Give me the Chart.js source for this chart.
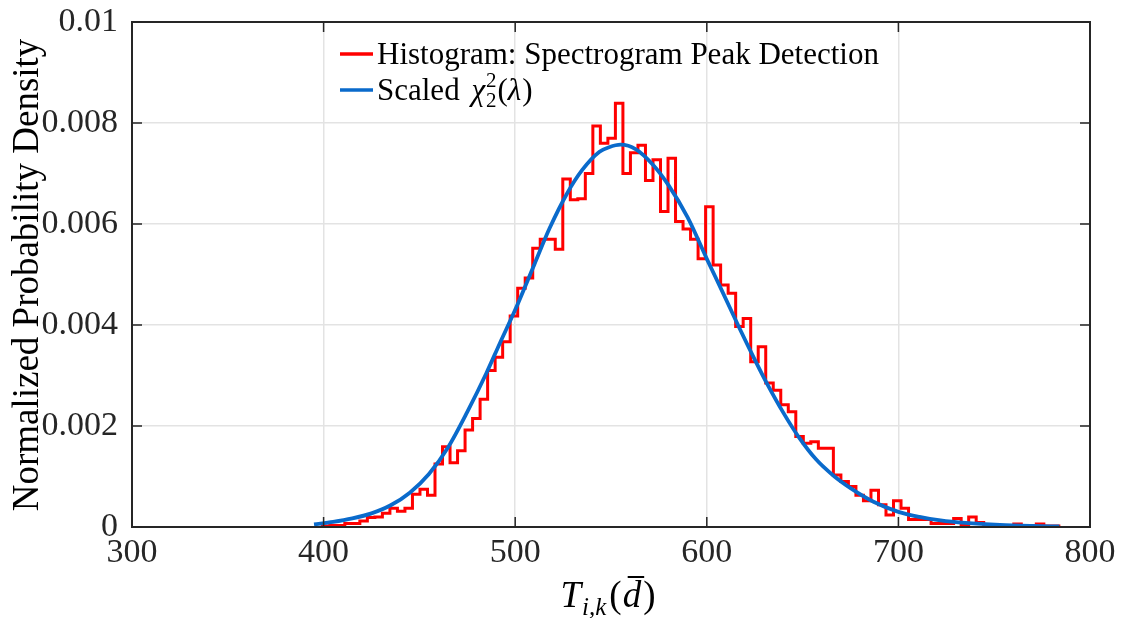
<!DOCTYPE html>
<html>
<head>
<meta charset="utf-8">
<script src="https://cdn.jsdelivr.net/npm/chart.js@4.4.1/dist/chart.umd.min.js"></script>
<style>
  body { margin: 0; background: #fff; }
  #wrap { width: 1121px; height: 618px; }
</style>
</head>
<body>
<div id="wrap"><canvas id="chart" width="1121" height="618"></canvas></div>
<script>
// histogram of the peak statistic (normalized density per bin)
const histStart = 399.3;
const binWidth = 3.923;
const histDensity = [
  0.00002, 0.00003, 0.00003, 0.00007, 0.00007, 0.00012, 0.00019, 0.0002, 0.00027, 0.00037,
  0.00031, 0.00037, 0.00065, 0.00075, 0.00063, 0.00125, 0.00159, 0.00127, 0.00151, 0.00192,
  0.00215, 0.00253, 0.0031, 0.00336, 0.00367, 0.00418, 0.00473, 0.00493, 0.00552, 0.0057,
  0.0057, 0.0055, 0.00689, 0.00648, 0.0065, 0.007, 0.00794, 0.0076, 0.0077, 0.00839,
  0.007, 0.00741, 0.00756, 0.00686, 0.00727, 0.00625, 0.0073, 0.00605, 0.0059, 0.0057,
  0.00531, 0.00634, 0.00519, 0.00479, 0.00463, 0.00397, 0.00413, 0.00327, 0.00357, 0.00285,
  0.00271, 0.00242, 0.00228, 0.00179, 0.00166, 0.00169, 0.00156, 0.00156, 0.00103, 0.0009,
  0.0008, 0.00063, 0.00052, 0.00073, 0.00044, 0.00024, 0.00052, 0.00037, 0.00015, 0.00015,
  0.00015, 0.00007, 0.00007, 0.00007, 0.00017, 0.00005, 0.0002, 0.00009, 0.00002, 0,
  0, 0.00002, 0.00006, 0.00002, 0.00002, 0.00006, 0.00002, 0.00002
];
// scaled chi-square curve
const curveX = [395, 405, 415, 425, 435, 445, 455, 465, 475, 485, 492, 500, 510, 518, 527, 535, 544, 549, 555, 563,
  572, 580, 590, 600, 608, 617, 626, 631, 640, 648, 657, 666, 675, 687, 700, 711, 722, 735, 753, 770, 784];
const curveY = [0.00005, 0.0001, 0.00017, 0.00027, 0.00043, 0.00068, 0.00105, 0.00158, 0.00228, 0.00305,
  0.00364, 0.0043, 0.0052, 0.00592, 0.0066, 0.00707, 0.00743, 0.00752, 0.00757, 0.00748,
  0.00717, 0.00677, 0.00613, 0.00531, 0.00467, 0.00394, 0.00324, 0.00287, 0.00226, 0.00178,
  0.00134, 0.00102, 0.00077, 0.0005, 0.0003, 0.0002, 0.00013, 0.00008, 0.00004, 0.00002, 0.00001];
const xTicks = [300, 400, 500, 600, 700, 800];
const yTicks = [0, 0.002, 0.004, 0.006, 0.008, 0.01];
const yTickLabels = ['0', '0.002', '0.004', '0.006', '0.008', '0.01'];

const RED = '#ff0000';
const BLUE = '#0a6acb';
const AXIS = '#262626';
const GRID = '#e3e3e3';
const FONT = '"Liberation Serif", "Times New Roman", serif';
const TICK_FS = 34;   // tick labels
const LEG_FS = 31;    // legend
const LAB_FS = 37;    // axis titles

// stairs outline: up at the first edge, across every bin, down after the last
const histPoints = [{x: histStart, y: 0}];
histDensity.forEach((v, i) => histPoints.push({x: histStart + i * binWidth, y: v}));
histPoints.push({x: histStart + histDensity.length * binWidth, y: 0});
const curvePoints = curveX.map((x, i) => ({x: x, y: curveY[i]}));

const frame = {
  id: 'frame',
  afterDraw(chart) {
    const ctx = chart.ctx;
    const a = chart.chartArea;
    const xs = chart.scales.x, ys = chart.scales.y;
    ctx.save();
    ctx.strokeStyle = AXIS;
    ctx.lineWidth = 2;
    ctx.beginPath();
    ctx.rect(a.left, a.top, a.right - a.left, a.bottom - a.top);
    ctx.stroke();
    // inward ticks
    ctx.lineWidth = 1.5;
    ctx.beginPath();
    xTicks.forEach(t => {
      const px = xs.getPixelForValue(t);
      ctx.moveTo(px, a.bottom); ctx.lineTo(px, a.bottom - 10);
      ctx.moveTo(px, a.top); ctx.lineTo(px, a.top + 10);
    });
    yTicks.forEach(t => {
      const py = ys.getPixelForValue(t);
      ctx.moveTo(a.left, py); ctx.lineTo(a.left + 10, py);
      ctx.moveTo(a.right, py); ctx.lineTo(a.right - 10, py);
    });
    ctx.stroke();

    // legend
    ctx.fillStyle = '#000';
    ctx.textBaseline = 'alphabetic';
    ctx.textAlign = 'left';
    ctx.lineWidth = 3.5;
    ctx.strokeStyle = RED;
    ctx.beginPath(); ctx.moveTo(340, 54); ctx.lineTo(373, 54); ctx.stroke();
    ctx.strokeStyle = BLUE;
    ctx.beginPath(); ctx.moveTo(340, 90); ctx.lineTo(373, 90); ctx.stroke();
    ctx.font = LEG_FS + 'px ' + FONT;
    ctx.fillText('Histogram: Spectrogram Peak Detection', 377, 64);
    let x = 377;
    ctx.fillText('Scaled ', x, 100);
    x += ctx.measureText('Scaled ').width + 4;
    ctx.font = 'italic ' + LEG_FS + 'px ' + FONT;
    ctx.fillText('χ', x, 100);
    x += ctx.measureText('χ').width + 1;
    ctx.font = '21px ' + FONT;
    ctx.fillText('2', x, 87);
    ctx.fillText('2', x, 107);
    x += ctx.measureText('2').width + 1;
    ctx.font = LEG_FS + 'px ' + FONT;
    ctx.fillText('(', x, 100);
    x += ctx.measureText('(').width;
    ctx.font = 'italic ' + LEG_FS + 'px ' + FONT;
    ctx.fillText('λ', x, 100);
    x += ctx.measureText('λ').width + 1;
    ctx.font = LEG_FS + 'px ' + FONT;
    ctx.fillText(')', x, 100);

    // x axis title: T_{i,k}(d-bar)
    const parts = [
      {t: 'T', f: 'italic ' + LAB_FS + 'px ' + FONT, dy: 0, gap: 1},
      {t: 'i,k', f: 'italic 25px ' + FONT, dy: 8, gap: 3},
      {t: '(', f: LAB_FS + 'px ' + FONT, dy: 0, gap: 1},
      {t: 'd', f: 'italic ' + LAB_FS + 'px ' + FONT, dy: 0, gap: 2, bar: true},
      {t: ')', f: LAB_FS + 'px ' + FONT, dy: 0, gap: 0}
    ];
    let total = 0;
    parts.forEach(p => { ctx.font = p.f; p.w = ctx.measureText(p.t).width; total += p.w + p.gap; });
    x = 608 - total / 2;
    const base = 607;
    parts.forEach(p => {
      ctx.font = p.f;
      ctx.fillText(p.t, x, base + p.dy);
      if (p.bar) {
        ctx.strokeStyle = '#000';
        ctx.lineWidth = 2;
        ctx.beginPath(); ctx.moveTo(x + 5, base - 30); ctx.lineTo(x + p.w + 3, base - 30); ctx.stroke();
      }
      x += p.w + p.gap;
    });

    // y axis title
    ctx.translate(38, 275);
    ctx.rotate(-Math.PI / 2);
    ctx.textAlign = 'center';
    ctx.font = LAB_FS + 'px ' + FONT;
    ctx.fillText('Normalized Probability Density', 0, 0);
    ctx.restore();
  }
};

// keep the plot box fixed: no extra room for overhanging tick labels
const noPad = s => { s.paddingTop = 0; s.paddingBottom = 0; s.paddingLeft = 0; s.paddingRight = 0; };

new Chart(document.getElementById('chart'), {
  type: 'line',
  data: {
    datasets: [
      {
        label: 'Scaled',
        data: curvePoints,
        borderColor: BLUE,
        borderWidth: 3.8,
        pointRadius: 0,
        cubicInterpolationMode: 'monotone',
        order: 0
      },
      {
        label: 'Histogram: Spectrogram Peak Detection',
        data: histPoints,
        borderColor: RED,
        borderWidth: 3,
        pointRadius: 0,
        stepped: 'before',
        order: 1
      }
    ]
  },
  options: {
    responsive: false,
    animation: false,
    events: [],
    layout: { padding: { top: 22, right: 31, left: 0, bottom: 0 } },
    plugins: { legend: { display: false }, tooltip: { enabled: false } },
    scales: {
      x: {
        type: 'linear',
        min: 300, max: 800,
        afterBuildTicks: s => { s.ticks = xTicks.map(v => ({value: v})); },
        afterFit: s => { s.height = 91; noPad(s); },
        grid: { color: GRID, lineWidth: 1.5, drawTicks: false },
        border: { display: false },
        ticks: { color: AXIS, padding: 6, maxRotation: 0, font: { family: FONT, size: TICK_FS } }
      },
      y: {
        type: 'linear',
        min: 0, max: 0.01,
        afterBuildTicks: s => { s.ticks = yTicks.map(v => ({value: v})); },
        afterFit: s => { s.width = 132; noPad(s); },
        grid: { color: GRID, lineWidth: 1.5, drawTicks: false },
        border: { display: false },
        ticks: {
          color: AXIS, padding: 14, font: { family: FONT, size: TICK_FS },
          callback: (v, i) => yTickLabels[i]
        }
      }
    }
  },
  plugins: [frame]
});
</script>
</body>
</html>
